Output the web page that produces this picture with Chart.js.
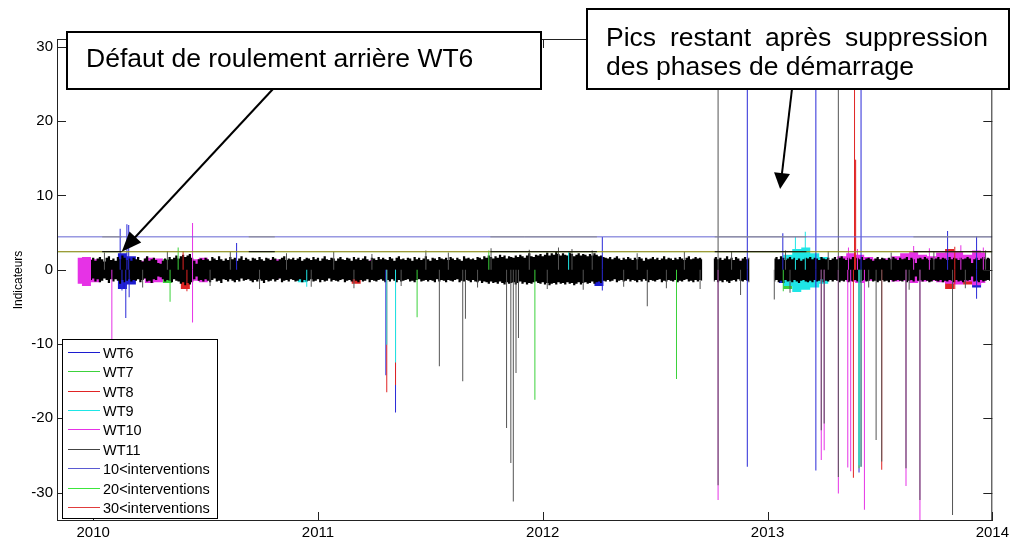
<!DOCTYPE html>
<html>
<head>
<meta charset="utf-8">
<title>Indicateurs WT6 - WT11</title>
<script src="https://cdn.jsdelivr.net/npm/chart.js"></script>
<style>
  body { margin: 0; background: #fff; }
  canvas { display: block; }
</style>
</head>
<body>
<canvas id="indChart" width="1012" height="543"></canvas>

<script>
// ---- values ----
const seriesNames = ['WT6', 'WT7', 'WT8', 'WT9', 'WT10', 'WT11'];
const seriesColors = ['#1c1cd0', '#3cd23c', '#e02424', '#1ee6e6', '#e632e6', '#000000'];
const spikeColors = ['#2a2ad8', '#3cd23c', '#e02424', '#1ee6e6', '#e632e6', '#555555'];

const limitNames = ['10<interventions', '20<interventions', '30<interventions'];
const limitValues = [4.42, 2.42, 2.42];
const limitColors = ['#6464d2', '#28ff28', 'rgba(255,20,20,0.55)'];
const limitLegendColors = ['#5a5ad2', '#3ce63c', '#e03c3c'];

const xTicks = [2010, 2011, 2012, 2013, 2014];
const yTicks = [-30, -20, -10, 0, 10, 20, 30];
const xRange = [2009.839, 2014];
const yRange = [-33.81, 31.04];

// WT11 noise band, upper / lower envelope (tenths), one bin every 0.01 year from 2009.99
const wt11Start = 2009.99, wt11Step = 0.01;
const wt11High = [
  13,16,12,15,17,14,11,16,18,13, 15,12,17,14,19,16,13,15,12,16,
  14,17,13,11,15,18,12,14,16,13, 9,8,12,15,13,17,14,16,19,15,
  18,20,17,19,21,16,12,8,14,15, 13,16,14,12,17,15,13,18,14,12,
  15,13,17,14,16,12,15,18,13,16, 14,12,16,15,13,17,14,12,16,15,
  13,17,15,12,14,16,18,13,15,14, 16,13,15,17,12,14,16,15,13,17,
  14,16,12,15,18,14,13,16,15,12, 15,17,14,13,16,15,12,17,14,16,
  13,15,18,14,12,16,15,13,17,14, 16,14,13,17,15,12,16,18,14,15,
  13,16,15,12,17,14,16,13,15,18, 14,12,16,15,13,17,15,14,16,13,
  17,15,13,16,14,12,18,15,16,14, 15,13,17,16,14,18,16,19,17,15,
  18,16,20,17,19,15,18,17,16,19, 17,20,18,16,19,22,18,17,20,19,
  21,18,20,23,19,22,20,24,21,19, 22,20,19,23,21,18,20,22,19,21,
  20,18,21,19,22,20,18,19,17,16, 15,17,14,16,18,15,13,16,14,17,
  15,13,16,14,17,15,12,16,14,15, 17,14,16,13,15,18,14,16,15,13,
  16,14,17,15,13,16,18,14,15,17, 15,16,14,null,null,null,null,15,17,14,
  16,13,15,18,14,16,13,17,15,12, 15,17,14,16,null,null,null,null,null,null,
  null,null,null,null,15,17,14,18,16,13, 15,17,14,16,13,15,12,14,16,15,
  17,14,16,15,13,17,15,14,16,13, 15,17,14,16,18,15,13,16,14,17,
  15,16,14,17,13,15,16,14,12,15, 17,14,16,15,13,16,14,17,15,13,
  16,14,15,17,13,16,14,9,15,16, 14,17,15,13,16,14,15,17,14,16,
  15,13,17,14,16,15,13,16,14,15, 17,15,9,14,16,13,15,17,14,16,
  15
];
const wt11Low = [
  -14,-12,-16,-13,-17,-15,-12,-14,-18,-13, -16,-13,-15,-19,-14,-17,-15,-13,-16,-14,
  -15,-13,-17,-14,-12,-16,-15,-18,-13,-14, -9,-10,-13,-16,-14,-15,-17,-13,-15,-16,
  -19,-17,-21,-18,-20,-17,-13,-9,-15,-14, -16,-13,-15,-17,-14,-12,-16,-15,-18,-13,
  -14,-16,-13,-15,-17,-14,-16,-12,-15,-14, -13,-15,-17,-14,-16,-13,-15,-18,-14,-16,
  -15,-13,-16,-14,-12,-17,-15,-14,-16,-13, -14,-16,-15,-13,-17,-14,-16,-15,-13,-16,
  -15,-13,-17,-14,-16,-15,-12,-16,-14,-15, -16,-14,-13,-17,-15,-14,-16,-13,-15,-17,
  -14,-16,-15,-13,-17,-14,-15,-16,-14,-13, -15,-17,-14,-16,-13,-15,-17,-14,-16,-15,
  -14,-13,-16,-15,-17,-14,-13,-16,-15,-14, -16,-14,-15,-17,-13,-16,-14,-15,-17,-14,
  -15,-16,-14,-13,-17,-15,-16,-14,-15,-17, -14,-16,-17,-15,-18,-16,-17,-19,-16,-18,
  -17,-19,-16,-18,-20,-17,-19,-18,-17,-20, -18,-16,-19,-17,-20,-18,-19,-17,-16,-18,
  -19,-17,-20,-18,-21,-19,-18,-20,-17,-19, -18,-20,-17,-19,-18,-21,-19,-17,-20,-18,
  -17,-19,-18,-16,-19,-17,-16,-18,-15,-16, -14,-16,-15,-13,-17,-15,-14,-16,-15,-13,
  -16,-14,-15,-17,-14,-16,-13,-15,-17,-14, -15,-16,-14,-13,-17,-15,-16,-14,-15,-16,
  -14,-17,-15,-16,-14,-13,-16,-15,-17,-14, -16,-14,-15,null,null,null,null,-16,-14,-17,
  -15,-17,-14,-16,-18,-15,-14,-16,-13,-15, -16,-14,-15,-17,null,null,null,null,null,null,
  null,null,null,null,-16,-14,-17,-15,-18,-14, -16,-15,-17,-14,-16,-18,-15,-14,-16,-17,
  -15,-17,-14,-16,-15,-13,-17,-15,-16,-14, -16,-14,-15,-17,-15,-16,-14,-17,-15,-16,
  -14,-16,-17,-15,-14,-16,-15,-13,-16,-15, -17,-15,-14,-16,-15,-17,-14,-16,-15,-14,
  -15,-16,-14,-17,-15,-14,-16,-9,-15,-14, -16,-14,-15,-17,-16,-14,-15,-16,-14,-17,
  -15,-16,-14,-15,-17,-14,-16,-15,-17,-14, -15,-14,-9,-16,-15,-17,-14,-16,-15,-14,
  -15
];

// WT6..WT10 bands (tenths), one bin every 0.04 year from 2009.93
const bandStart = 2009.93, bandStep = 0.04;
const wt6High = [
  null,12,10,10,10,22,18,10,10,10, 10,10,10,10,10,10,10,10,10,10,
  10,10,10,10,10,10,10,10,10,10, 10,10,10,10,10,10,10,10,10,10,
  10,10,10,10,10,10,10,10,10,10, 10,10,10,10,10,10,10,10,15,10,
  10,10,10,10,10,10,10,10,10,10, null,10,10,10,10,null,null,null,14,12,
  10,10,10,10,10,10,10,10,10,10, 10,10,10,10,10,10,10,10,10,10,
  14,10
];
const wt6Low = [
  null,-14,-10,-10,-10,-26,-20,-10,-10,-10, -10,-10,-10,-10,-10,-10,-10,-10,-10,-10,
  -10,-10,-10,-10,-10,-10,-10,-10,-10,-10, -10,-10,-10,-10,-10,-10,-10,-10,-10,-10,
  -10,-10,-10,-10,-10,-10,-10,-10,-10,-10, -10,-10,-10,-10,-10,-10,-10,-10,-22,-10,
  -10,-10,-10,-10,-10,-10,-10,-10,-10,-10, null,-10,-10,-10,-10,null,null,null,-18,-16,
  -10,-10,-10,-10,-10,-10,-10,-10,-10,-10, -10,-10,-10,-10,-10,-10,-10,-10,-10,-10,
  -24,-10
];
const wt7High = [
  null,null,10,10,10,10,10,10,10,10, 14,10,10,10,10,10,10,10,10,10,
  10,10,10,10,10,10,10,10,10,10, 10,10,10,10,10,10,10,10,10,10,
  10,10,10,10,10,10,10,10,10,10, 10,10,10,10,10,10,10,10,10,10,
  10,10,10,10,10,10,10,10,10,10, null,10,10,10,10,null,null,null,10,12,
  12,10,10,10,10,10,10,10,10,10, 10,10,10,10,10,10,10,10,10,10,
  10,10
];
const wt7Low = [
  null,null,-10,-10,-10,-10,-10,-10,-10,-10, -18,-10,-10,-10,-10,-10,-10,-10,-10,-10,
  -10,-10,-10,-10,-10,-10,-10,-10,-10,-10, -10,-10,-10,-10,-10,-10,-10,-10,-10,-10,
  -10,-10,-10,-10,-10,-10,-10,-10,-10,-10, -10,-10,-10,-10,-10,-10,-10,-10,-10,-10,
  -10,-10,-10,-10,-10,-10,-10,-10,-10,-10, null,-10,-10,-10,-10,null,null,null,-10,-26,
  -20,-10,-10,-10,-10,-10,-10,-10,-10,-10, -10,-10,-10,-10,-10,-10,-10,-10,-10,-10,
  -10,-10
];
const wt8High = [
  null,null,10,10,10,10,10,10,10,10, 10,10,14,10,10,10,10,10,10,10,
  10,10,10,10,10,10,10,10,10,10, 10,10,10,10,10,10,10,10,10,10,
  10,10,10,10,10,10,10,10,10,10, 10,10,10,10,10,10,10,10,10,10,
  10,10,10,10,10,10,10,10,10,10, null,10,10,10,10,null,null,null,10,10,
  10,10,10,10,10,10,10,10,10,10, 10,10,10,10,10,10,10,28,10,18,
  10,10
];
const wt8Low = [
  null,null,-10,-10,-10,-10,-10,-10,-10,-10, -10,-10,-26,-10,-10,-10,-10,-10,-10,-10,
  -10,-10,-10,-10,-10,-10,-10,-10,-10,-10, -10,-19,-10,-10,-10,-10,-10,-10,-10,-10,
  -10,-10,-10,-10,-10,-10,-10,-10,-10,-10, -10,-10,-10,-10,-10,-10,-10,-10,-10,-10,
  -10,-10,-10,-10,-10,-10,-10,-10,-10,-10, null,-10,-10,-10,-10,null,null,null,-10,-10,
  -10,-10,-10,-10,-10,-10,-10,-10,-10,-10, -10,-10,-10,-10,-10,-10,-10,-26,-10,-20,
  -10,-10
];
const wt9High = [
  null,null,10,10,10,10,10,10,10,10, 10,10,10,10,10,10,10,10,10,10,
  10,10,10,10,10,10,10,10,10,10, 10,10,10,10,10,10,10,10,10,10,
  10,10,10,10,10,10,10,10,10,10, 10,10,10,10,10,10,10,14,10,10,
  10,10,10,10,10,10,10,10,10,10, null,10,10,10,10,null,null,null,12,20,
  28,30,22,17,10,10,10,10,10,10, 10,10,10,10,10,10,10,10,10,10,
  10,10
];
const wt9Low = [
  null,null,-10,-10,-10,-10,-10,-10,-10,-10, -10,-10,-10,-10,-10,-10,-10,-10,-10,-10,
  -10,-10,-10,-10,-10,-17,-10,-10,-10,-10, -10,-10,-10,-10,-10,-10,-10,-10,-10,-10,
  -10,-10,-10,-10,-10,-10,-10,-10,-10,-10, -10,-10,-10,-10,-10,-10,-10,-12,-10,-10,
  -10,-10,-10,-10,-10,-10,-10,-10,-10,-10, null,-10,-10,-10,-10,null,null,null,-14,-22,
  -30,-27,-24,-19,-10,-10,-10,-10,-10,-10, -10,-10,-10,-10,-10,-10,-10,-10,-10,-10,
  -10,-10
];
const wt10High = [
  16,17,14,10,10,10,10,12,16,15, 10,10,12,14,16,10,10,10,10,10,
  10,10,14,10,10,10,10,10,10,10, 10,10,10,13,10,10,10,10,10,10,
  10,10,10,10,10,10,10,10,12,10, 10,10,10,10,10,10,10,10,10,10,
  10,10,10,10,10,10,10,10,10,10, null,12,12,12,12,null,null,null,10,10,
  10,10,10,10,10,18,22,20,17,14, 15,18,22,24,20,18,23,25,24,20,
  26,23
];
const wt10Low = [
  -19,-22,-17,-10,-10,-10,-10,-12,-18,-17, -10,-10,-13,-15,-17,-10,-10,-10,-10,-10,
  -10,-10,-12,-10,-10,-10,-10,-10,-10,-10, -10,-10,-10,-12,-10,-10,-10,-10,-10,-10,
  -10,-10,-10,-10,-10,-10,-10,-10,-14,-10, -10,-10,-10,-10,-10,-10,-10,-10,-10,-10,
  -10,-10,-10,-10,-10,-10,-10,-10,-10,-10, null,-12,-12,-12,-12,null,null,null,-12,-12,
  -12,-12,-12,-12,-12,-14,-16,-18,-15,-12, -14,-16,-15,-18,-16,-15,-17,-19,-20,-16,
  -21,-18
];

// isolated peaks [year, value]
const wt6Spikes = [
  [2010.120, 5.5], [2010.128, -2.8], [2010.145, -6.5], [2010.150, 6.1], [2010.158, 6.0], [2010.160, -3.7],
  [2010.638, 3.6], [2011.302, -14.2], [2011.345, -19.2], [2012.265, 4.4], [2012.265, -2.8],
  [2012.910, 40], [2012.910, -26.5], [2013.068, 4.9], [2013.215, 40], [2013.215, -27.0],
  [2013.407, -27.3], [2013.416, 40], [2013.801, 5.2], [2013.930, 4.5], [2013.930, -3.9]
];
const wt7Spikes = [
  [2010.342, -4.3], [2010.378, 3.0], [2011.441, -6.4], [2011.760, 2.6], [2011.965, -17.5],
  [2012.595, -14.7], [2013.070, -2.9], [2013.407, -26.7]
];
const wt8Spikes = [
  [2010.400, 2.5], [2010.417, -2.9], [2011.306, -16.5], [2011.345, -15.5],
  [2013.382, -28.0], [2013.387, 40], [2013.389, 14.8], [2013.392, 14.8], [2013.508, -26.9],
  [2013.833, 3.1], [2013.833, -2.6]
];
const wt9Spikes = [
  [2010.950, -2.3], [2011.306, -10.1], [2011.345, -12.5], [2012.115, 2.4],
  [2013.124, 4.4], [2013.168, 5.1], [2013.407, -26.3], [2013.416, -26.5]
];
const wt10Spikes = [
  [2010.083, -10.5], [2010.442, 6.3], [2010.442, -7.1], [2012.780, -31.0],
  [2013.239, -25.6], [2013.252, -24.3], [2013.315, -30.1], [2013.357, -26.6], [2013.370, -27.1],
  [2013.431, -32.3], [2013.616, -29.1], [2013.678, -33.9],
  [2013.360, 3.0], [2013.400, 2.8], [2013.650, 3.2], [2013.720, 2.9], [2013.860, 3.3], [2013.960, 3.0]
];
const wt11Spikes = [
  [2011.540, -13.0], [2011.644, -15.0], [2011.656, -6.6], [2011.839, -21.3], [2011.858, -26.0],
  [2011.869, -31.2], [2011.881, -13.9], [2011.892, -9.2], [2012.465, -4.9],
  [2012.780, 40], [2012.780, -29.0], [2013.030, -4.0], [2013.239, -21.6], [2013.252, -20.7],
  [2013.315, 40], [2013.315, -27.9], [2013.416, -26.5], [2013.483, -22.9], [2013.508, -25.8],
  [2013.616, -26.7], [2013.678, -31.0], [2013.823, -33.0],
  [2010.050, 2.3], [2010.220, -2.4], [2010.330, 2.5], [2010.520, -2.2], [2010.610, 2.4],
  [2010.740, -2.6], [2010.860, 2.2], [2010.970, -2.3], [2011.070, 2.4], [2011.160, -2.5],
  [2011.240, 2.1], [2011.370, -2.2], [2011.480, 2.6], [2011.580, 2.3], [2011.710, -2.4],
  [2011.770, 2.9], [2011.940, 2.7], [2012.020, -2.6], [2012.070, 3.0], [2012.130, 2.8],
  [2012.180, -2.7], [2012.220, 2.6], [2012.360, -2.3], [2012.420, 2.2], [2012.550, -2.5],
  [2012.630, 2.4], [2012.700, -2.6], [2012.840, 2.5], [2012.880, -3.4], [2013.080, 2.6],
  [2013.100, -3.1], [2013.270, 2.5], [2013.450, -2.4], [2013.550, 2.3], [2013.630, -2.7],
  [2013.740, 2.4], [2013.880, -2.5], [2013.970, 2.6]
];

// periods where the WT11 limits are drawn
const wt11LimitSpans = [[2010.040, 2010.127], [2010.692, 2010.808], [2011.767, 2012.241], [2012.765, 2013.173], [2013.649, 2014.0]];

// annotations: box in pixels, arrow tip in data units
const notes = [
  { lines: ['Défaut de roulement arrière WT6'], box: [67, 32, 541, 89], tail: 273, tip: [2010.127, 2.42], head: [20, 8], justify: false },
  { lines: ['Pics restant après suppression', 'des phases de démarrage'], box: [587, 9, 1009, 89], tail: 792, tip: [2013.056, 10.85], head: [16, 8], justify: true }
];

// ---- build datasets ----
// a band is the area between two stepped lines (upper / lower envelope)
function bandLines(start, step, high, low, color) {
  const hi = [], lo = [];
  for (let i = 0; i < high.length; i++) {
    const x = +(start + i * step).toFixed(3);
    hi.push({ x, y: high[i] === null ? null : high[i] / 10 });
    lo.push({ x, y: low[i] === null ? null : low[i] / 10 });
  }
  return [
    { type: 'line', data: hi, borderColor: 'rgba(0,0,0,0)', stepped: 'middle', fill: false },
    { type: 'line', data: lo, borderColor: 'rgba(0,0,0,0)', stepped: 'middle', fill: '-1', backgroundColor: color }
  ];
}
function spikes(list) {
  return list.map(([t, v]) => ({ x: t, y: [0, v] }));
}
function spans(list, v) {
  const pts = [];
  list.forEach(([a, b]) => pts.push({ x: a, y: v }, { x: b, y: v }, { x: b, y: null }));
  return pts;
}

const layers = [];
[[wt6High, wt6Low], [wt7High, wt7Low], [wt8High, wt8Low], [wt9High, wt9Low], [wt10High, wt10Low]].forEach(([hi, lo], k) => {
  layers.push(...bandLines(bandStart, bandStep, hi, lo, seriesColors[k]));
});
layers.push(...bandLines(wt11Start, wt11Step, wt11High, wt11Low, seriesColors[5]));
[wt6Spikes, wt7Spikes, wt8Spikes, wt9Spikes, wt10Spikes, wt11Spikes].forEach((s, k) => {
  layers.push({ type: 'bar', data: spikes(s), backgroundColor: spikeColors[k], barThickness: 1 });
});
limitValues.forEach((v, k) => {
  layers.push({ type: 'line', data: [{ x: xRange[0], y: v }, { x: xRange[1], y: v }], borderColor: limitColors[k] });
});
layers.push({ type: 'line', data: spans(wt11LimitSpans, limitValues[0]), borderColor: '#8c8c8c' });
layers.push({ type: 'line', data: spans(wt11LimitSpans, limitValues[1]), borderColor: '#000000' });

const datasets = layers.map((d, i) => Object.assign({
  stack: 'all',
  order: layers.length - i,
  borderWidth: d.type === 'line' ? 1 : 0,
  inflateAmount: 0,
  pointRadius: 0,
  spanGaps: false,
  fill: false
}, d));

// ---- plugins: MATLAB frame, legend, annotations ----
const FONT = '"Liberation Sans", Arial, sans-serif';

const frame = {
  id: 'frame',
  afterDatasetsDraw(chart) {
    const { ctx, chartArea: a, scales: { x, y } } = chart;
    ctx.save();
    ctx.strokeStyle = '#222';
    ctx.lineWidth = 1;
    ctx.strokeRect(a.left + 0.5, a.top + 0.5, a.right - a.left - 1, a.bottom - a.top - 1);
    ctx.beginPath();
    x.ticks.forEach(t => {
      const px = Math.round(x.getPixelForValue(t.value)) + 0.5;
      ctx.moveTo(px, a.bottom); ctx.lineTo(px, a.bottom - 9);
      ctx.moveTo(px, a.top); ctx.lineTo(px, a.top + 9);
    });
    y.ticks.forEach(t => {
      const py = Math.round(y.getPixelForValue(t.value)) + 0.5;
      ctx.moveTo(a.left, py); ctx.lineTo(a.left + 9, py);
      ctx.moveTo(a.right, py); ctx.lineTo(a.right - 9, py);
    });
    ctx.stroke();
    ctx.restore();
  }
};

const matlabLegend = {
  id: 'matlabLegend',
  afterDraw(chart) {
    const ctx = chart.ctx;
    const names = seriesNames.concat(limitNames);
    const colors = seriesColors.slice(0, 5).concat(['#444444'], limitLegendColors);
    const bx = 62, by = 339, bw = 155, bh = 179;
    ctx.save();
    ctx.fillStyle = '#fff';
    ctx.fillRect(bx, by, bw, bh);
    ctx.strokeStyle = '#000';
    ctx.lineWidth = 1;
    ctx.strokeRect(bx + 0.5, by + 0.5, bw, bh);
    ctx.font = '14.5px ' + FONT;
    ctx.textBaseline = 'middle';
    names.forEach((n, k) => {
      const yy = Math.round(by + 12.7 + k * 19.4) + 0.5;
      ctx.strokeStyle = colors[k];
      ctx.beginPath();
      ctx.moveTo(bx + 6, yy);
      ctx.lineTo(bx + 38, yy);
      ctx.stroke();
      ctx.fillStyle = '#000';
      ctx.fillText(n, bx + 41, yy + 1);
    });
    ctx.restore();
  }
};

const annotations = {
  id: 'annotations',
  afterDraw(chart) {
    const { ctx, scales: { x, y } } = chart;
    ctx.save();
    notes.forEach(n => {
      const [x0, y0, x1, y1] = n.box;
      const tx = x.getPixelForValue(n.tip[0]), ty = y.getPixelForValue(n.tip[1]);
      const sx = n.tail, sy = y1;
      const ang = Math.atan2(ty - sy, tx - sx), c = Math.cos(ang), s = Math.sin(ang);
      const [L, W] = n.head;
      ctx.strokeStyle = '#000';
      ctx.fillStyle = '#000';
      ctx.lineWidth = 2;
      ctx.beginPath();
      ctx.moveTo(sx, sy);
      ctx.lineTo(tx - c * (L - 2), ty - s * (L - 2));
      ctx.stroke();
      ctx.beginPath();
      ctx.moveTo(tx, ty);
      ctx.lineTo(tx - c * L - s * W, ty - s * L + c * W);
      ctx.lineTo(tx - c * L + s * W, ty - s * L - c * W);
      ctx.closePath();
      ctx.fill();

      ctx.fillStyle = '#fff';
      ctx.fillRect(x0, y0, x1 - x0, y1 - y0);
      ctx.strokeRect(x0, y0, x1 - x0, y1 - y0);

      ctx.fillStyle = '#000';
      ctx.font = '26.5px ' + FONT;
      ctx.textBaseline = 'alphabetic';
      const left = x0 + 19, right = x1 - 21;
      n.lines.forEach((line, k) => {
        const base = n.lines.length > 1 ? y0 + 36.5 + k * 29 : y0 + 34.5;
        if (n.justify && k === 0) {
          const words = line.split(' ');
          const widths = words.map(w => ctx.measureText(w).width);
          const gap = (right - left - widths.reduce((p, q) => p + q, 0)) / (words.length - 1);
          let cx = left;
          words.forEach((w, i) => { ctx.fillText(w, cx, base); cx += widths[i] + gap; });
        } else {
          ctx.fillText(line, left, base);
        }
      });
    });
    ctx.restore();
  }
};

new Chart(document.getElementById('indChart'), {
  type: 'bar',
  data: { datasets },
  options: {
    responsive: false,
    devicePixelRatio: 1,
    animation: false,
    events: [],
    layout: { padding: { left: 0, top: 39, right: 18, bottom: 0 } },
    plugins: { legend: { display: false }, tooltip: { enabled: false } },
    scales: {
      x: {
        type: 'linear',
        offset: false,
        stacked: true,
        min: xRange[0],
        max: xRange[1],
        grid: { display: false, drawTicks: false },
        border: { display: false },
        afterBuildTicks: s => { s.ticks = xTicks.map(v => ({ value: v })); },
        afterFit: s => { s.height = 22; },
        ticks: { padding: 3, color: '#000', font: { family: FONT, size: 15 }, callback: v => String(v), maxRotation: 0, autoSkip: false }
      },
      y: {
        type: 'linear',
        stacked: false,
        min: yRange[0],
        max: yRange[1],
        grid: { display: false, drawTicks: false },
        border: { display: false },
        afterBuildTicks: s => { s.ticks = yTicks.map(v => ({ value: v })); },
        afterFit: s => { s.width = 57; },
        title: { display: true, text: 'Indicateurs', color: '#000', font: { family: FONT, size: 12 }, padding: { top: 11, bottom: 0 } },
        ticks: { padding: 4, color: '#000', font: { family: FONT, size: 15 }, callback: v => String(v) }
      }
    }
  },
  plugins: [frame, matlabLegend, annotations]
});
</script>
</body>
</html>
